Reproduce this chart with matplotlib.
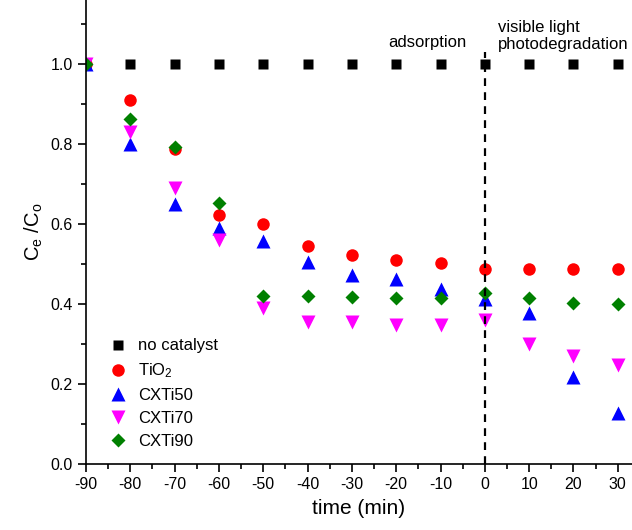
import matplotlib
matplotlib.use('Agg')
import matplotlib.pyplot as plt
from matplotlib.ticker import MultipleLocator

plt.rcParams['font.family'] = ['Liberation Sans', 'DejaVu Sans']
plt.rcParams['mathtext.fontset'] = 'custom'
plt.rcParams['mathtext.rm'] = 'Liberation Sans'
plt.rcParams['mathtext.it'] = 'Liberation Sans'
plt.rcParams['axes.unicode_minus'] = False

# time (min) and Ce/Co for each sample
time = [-90, -80, -70, -60, -50, -40, -30, -20, -10, 0, 10, 20, 30]
no_catalyst = [1.0] * 13
tio2 = [1.0, 0.91, 0.788, 0.623, 0.60, 0.545, 0.523, 0.51, 0.502, 0.487, 0.487, 0.487, 0.487]
cxti50 = [1.0, 0.80, 0.65, 0.59, 0.558, 0.505, 0.472, 0.462, 0.437, 0.412, 0.378, 0.218, 0.128]
cxti70 = [1.0, 0.83, 0.69, 0.56, 0.39, 0.356, 0.356, 0.348, 0.348, 0.36, 0.30, 0.27, 0.248]
cxti90 = [1.0, 0.862, 0.792, 0.652, 0.42, 0.42, 0.418, 0.415, 0.415, 0.428, 0.416, 0.402, 0.40]

fig = plt.figure(figsize=(6.32, 5.30), dpi=100)
ax = fig.add_axes([0.136, 0.1245, 0.864, 0.8755])

ax.plot(time, no_catalyst, 's', color='black', ms=7, mec='none', label='no catalyst')
ax.plot(time, tio2, 'o', color='red', ms=9, mec='none', label='TiO$_2$')
ax.plot(time, cxti50, '^', color='blue', ms=9.5, mec='none', label='CXTi50')
ax.plot(time, cxti70, 'v', color='magenta', ms=9.5, mec='none', label='CXTi70')
ax.plot(time, cxti90, 'D', color='green', ms=7.5, mec='none', label='CXTi90')

# boundary between adsorption and photodegradation
ax.plot([0, 0], [0, 1.03], 'k--', lw=1.6, dashes=(3.5, 2.8))
ax.text(-13.0, 1.055, 'adsorption', ha='center', va='center', fontsize=12)
ax.text(2.9, 1.03, 'visible light\nphotodegradation', ha='left', va='bottom',
        fontsize=12, linespacing=1.15)

ax.set_xlim(-90, 33.2)
ax.set_ylim(0, 1.16)
ax.spines['top'].set_visible(False)
ax.spines['right'].set_visible(False)
ax.spines['left'].set_linewidth(1.2)
ax.spines['bottom'].set_linewidth(1.2)
ax.set_xticks(range(-90, 31, 10))
ax.set_yticks([0.0, 0.2, 0.4, 0.6, 0.8, 1.0])
ax.xaxis.set_minor_locator(MultipleLocator(5))
ax.yaxis.set_minor_locator(MultipleLocator(0.1))
ax.tick_params(which='major', direction='out', length=6, width=1.2, labelsize=11.5)
ax.tick_params(which='minor', direction='out', length=3.5, width=1.2)

ax.set_xlabel('time (min)', fontsize=15, labelpad=5)
ax.set_ylabel('C$_e$ /C$_o$', fontsize=14.5, labelpad=4)

ax.legend(loc='upper left', bbox_to_anchor=(0.0234, 0.285), frameon=False, fontsize=12,
          handletextpad=0.45, labelspacing=0.48, borderaxespad=0, handlelength=1.5)

fig.savefig('out.png', dpi=100, facecolor='white')
